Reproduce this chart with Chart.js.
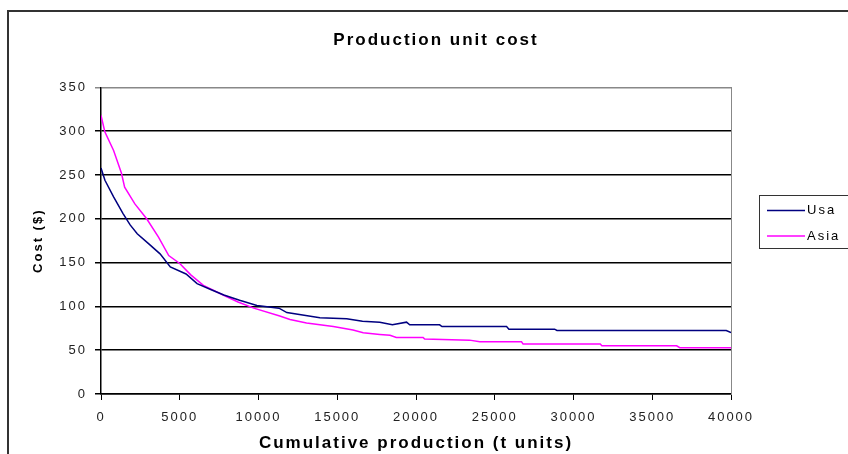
<!DOCTYPE html>
<html lang="en">
<head>
    <meta charset="UTF-8">
    <title>Production unit cost</title>
    <script src="https://cdn.jsdelivr.net/npm/chart.js"></script>
    <style>
        body { margin: 0; background: #fff; overflow: hidden; }
        .moldura { position: absolute; left: 7px; top: 10px; width: 900px; height: 500px; border: 2px solid #333; }
        .grafico { position: absolute; left: 0; top: 0; width: 848px; height: 454px; }
    </style>
</head>
<body>
    <div class="moldura"></div>
    <div class="grafico">
        <canvas id="custoCanvas" width="848" height="454"></canvas>
    </div>

<script>
    // values
    var usaX = [0, 250, 800, 1400, 1850, 2300, 3000, 3750, 4400, 5400, 6100, 7000, 7800, 8800, 9900, 11300, 11800, 13900, 15600, 16600, 17700, 18500, 19400, 19600, 21500, 21650, 25750, 25900, 28800, 28950, 39700, 40000];
    var usaCost = [258, 244, 225, 206, 193, 183, 172, 160, 145, 137, 126, 119, 113, 107, 101, 98, 93, 87, 86, 83, 82, 79, 82, 79, 79, 77, 77, 74, 74, 72.5, 72.5, 70];

    var asiaX = [0, 250, 800, 1300, 1500, 2150, 2900, 3650, 4300, 5000, 5700, 6500, 7750, 8700, 9700, 11350, 12000, 13050, 14750, 16000, 16650, 17700, 18350, 18750, 20450, 20550, 23400, 24050, 26700, 26800, 31700, 31800, 36550, 36750, 40000];
    var asiaCost = [318, 299, 278, 252, 236, 217, 200, 179, 158, 149, 136, 124, 113, 105, 98, 89, 85, 81, 77, 73, 70, 68, 67, 64.6, 64.6, 62.7, 61.5, 59.6, 59.6, 57, 57, 55, 55, 52.8, 52.8];

    var xTicks = [0, 5000, 10000, 15000, 20000, 25000, 30000, 35000, 40000];
    var yTicks = [0, 50, 100, 150, 200, 250, 300, 350];

    function pontos(xs, ys) {
        return xs.map(function (x, i) { return { x: x, y: ys[i] }; });
    }

    // spacing like the old Excel rendering
    var espaco = {
        id: 'espaco',
        beforeDraw: function (chart) {
            chart.ctx.letterSpacing = '2px';
        }
    };

    // legend box on the right
    var legenda = {
        id: 'legenda',
        afterDraw: function (chart) {
            var ctx = chart.ctx;
            ctx.save();
            ctx.strokeStyle = '#333';
            ctx.lineWidth = 1;
            ctx.strokeRect(759.5, 195.5, 120, 53);
            ctx.font = '13px "Liberation Sans", Arial, sans-serif';
            ctx.letterSpacing = '2px';
            ctx.textBaseline = 'middle';
            ctx.fillStyle = '#000';
            chart.data.datasets.forEach(function (ds, i) {
                var y = 210.5 + i * 25.5;
                ctx.strokeStyle = ds.borderColor;
                ctx.lineWidth = 1.5;
                ctx.beginPath();
                ctx.moveTo(767, y);
                ctx.lineTo(805, y);
                ctx.stroke();
                ctx.fillText(ds.label, 807, y);
            });
            ctx.restore();
        }
    };

    var fonte = '"Liberation Sans", Arial, sans-serif';

    var config = {
        type: 'line',
        data: {
            datasets: [{
                label: 'Usa',
                data: pontos(usaX, usaCost),
                borderColor: '#000080',
                borderWidth: 1.5,
                pointRadius: 0,
                tension: 0,
                fill: false
            }, {
                label: 'Asia',
                data: pontos(asiaX, asiaCost),
                borderColor: '#ff00ff',
                borderWidth: 1.5,
                pointRadius: 0,
                tension: 0,
                fill: false
            }]
        },
        options: {
            responsive: false,
            animation: false,
            layout: { padding: { left: 24, right: 0, top: 0, bottom: 0 } },
            plugins: {
                legend: { display: false },
                tooltip: { enabled: false },
                title: {
                    display: true,
                    text: 'Production unit cost',
                    color: '#000',
                    font: { family: fonte, size: 17, weight: 'bold', lineHeight: 1.2 },
                    padding: { top: 30, bottom: 37 }
                }
            },
            scales: {
                x: {
                    type: 'linear',
                    min: 0,
                    max: 40000,
                    afterFit: function (scale) { scale.height = 60; },
                    afterBuildTicks: function (scale) {
                        scale.ticks = xTicks.map(function (v) { return { value: v }; });
                    },
                    ticks: {
                        color: '#222',
                        font: { family: fonte, size: 13 },
                        padding: 10,
                        maxRotation: 0,
                        callback: function (v) { return String(v); }
                    },
                    grid: {
                        drawOnChartArea: false,
                        color: '#000',
                        tickLength: 6
                    },
                    border: { color: '#000', width: 1.5 },
                    title: {
                        display: true,
                        text: 'Cumulative production (t units)',
                        color: '#000',
                        font: { family: fonte, size: 17, weight: 'bold', lineHeight: 1.2 },
                        padding: { top: 0, bottom: 0 }
                    }
                },
                y: {
                    min: 0,
                    max: 350,
                    afterFit: function (scale) { scale.width = 77; },
                    afterBuildTicks: function (scale) {
                        scale.ticks = yTicks.map(function (v) { return { value: v }; });
                    },
                    ticks: {
                        color: '#222',
                        font: { family: fonte, size: 13 },
                        padding: 8
                    },
                    grid: {
                        color: function (c) { return c.tick && c.tick.value === 350 ? '#888' : '#000'; },
                        lineWidth: 1.5,
                        tickLength: 6
                    },
                    border: { color: '#000', width: 1.5 },
                    title: {
                        display: true,
                        text: 'Cost ($)',
                        color: '#000',
                        font: { family: fonte, size: 13, weight: 'bold', lineHeight: 1.2 },
                        padding: { top: 7, bottom: 7 }
                    }
                },
                // empty right scale: gives the plot its grey right edge and leaves room for the legend
                y2: {
                    position: 'right',
                    min: 0,
                    max: 350,
                    afterFit: function (scale) { scale.width = 117; },
                    ticks: { display: false },
                    grid: { drawOnChartArea: false, drawTicks: false },
                    border: { color: '#888', width: 1 }
                }
            }
        },
        plugins: [espaco, legenda]
    };

    var grafico = new Chart(document.getElementById('custoCanvas'), config);
</script>
</body>
</html>
